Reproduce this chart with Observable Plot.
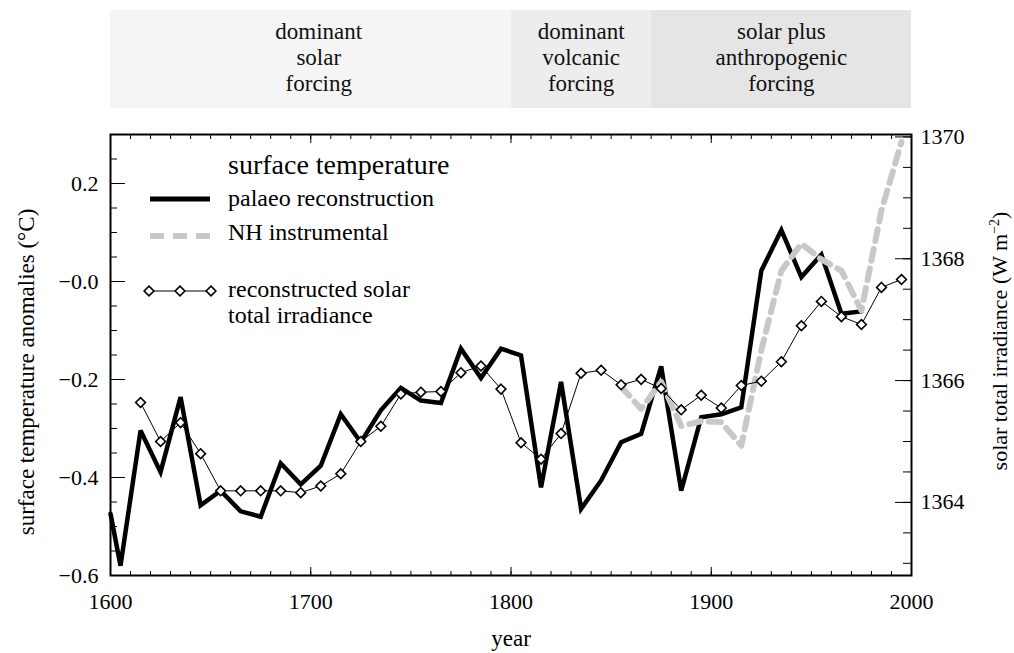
<!DOCTYPE html>
<html><head><meta charset="utf-8">
<script src="https://cdn.jsdelivr.net/npm/d3@7"></script>
<script src="https://cdn.jsdelivr.net/npm/@observablehq/plot@0.6"></script>
<style>
body{margin:0;background:#fff;}
#wrap{position:relative;width:1014px;height:653px;font-family:"Liberation Serif","Times New Roman",serif;}
#wrap > svg{display:block;}
#legend{position:absolute;left:0;top:0;pointer-events:none;}
</style></head><body><div id="wrap"></div>
<script>
// ---- data ----
const palaeoYears = [1600,1605,1615,1625,1635,1645,1655,1665,1675,1685,1695,1705,1715,1725,1735,1745,1755,1765,1775,1785,1795,1805,1815,1825,1835,1845,1855,1865,1875,1885,1895,1905,1915,1925,1935,1945,1955,1965,1975];
const palaeoTemp = [-0.474,-0.58,-0.304,-0.389,-0.236,-0.457,-0.427,-0.469,-0.48,-0.371,-0.414,-0.376,-0.271,-0.328,-0.263,-0.217,-0.243,-0.248,-0.137,-0.197,-0.137,-0.151,-0.42,-0.205,-0.464,-0.406,-0.328,-0.311,-0.173,-0.427,-0.277,-0.271,-0.257,0.022,0.105,0.009,0.055,-0.066,-0.061];
const nhYears = [1855,1865,1875,1885,1895,1905,1915,1925,1935,1945,1955,1965,1975,1985,1995];
const nhTemp = [-0.215,-0.26,-0.205,-0.295,-0.285,-0.287,-0.335,-0.14,0.022,0.077,0.045,0.022,-0.059,0.145,0.285];
const solarYears = [1615,1625,1635,1645,1655,1665,1675,1685,1695,1705,1715,1725,1735,1745,1755,1765,1775,1785,1795,1805,1815,1825,1835,1845,1855,1865,1875,1885,1895,1905,1915,1925,1935,1945,1955,1965,1975,1985,1995];
const solarIrr = [1365.64,1365.0,1365.31,1364.80,1364.19,1364.19,1364.19,1364.19,1364.16,1364.27,1364.47,1365.0,1365.25,1365.78,1365.81,1365.82,1366.13,1366.24,1365.86,1364.98,1364.71,1365.13,1366.12,1366.17,1365.93,1366.02,1365.87,1365.52,1365.76,1365.55,1365.92,1365.99,1366.31,1366.90,1367.30,1367.05,1366.92,1367.53,1367.66];

const bandStart = [1600,1800,1870];
const bandEnd = [1800,1870,2000];
const bandLabelYear = [1704,1835,1935];
const bandLabels = ["dominant\nsolar\nforcing","dominant\nvolcanic\nforcing","solar plus\nanthropogenic\nforcing"];
const bandFill = ["#f5f5f5","#ededed","#e5e5e5"];

const xMajor = [1600,1700,1800,1900,2000];
const xMinor = d3.range(1600,2001,10);
const yMajor = [-0.6,-0.4,-0.2,0,0.2];
const yMinor = d3.range(-0.6,0.3001,0.05);
const irrMajor = [1364,1366,1368,1370];
const irrMinor = d3.range(1363,1370.01,0.5);

const tempDomain = [-0.6,0.3];
const irrDomain = [1362.8,1370.04];

// ---- build ----
const irrToY = v => tempDomain[0] + (v - irrDomain[0])*(tempDomain[1]-tempDomain[0])/(irrDomain[1]-irrDomain[0]);
const yToIrr = t => irrDomain[0] + (t - tempDomain[0])*(irrDomain[1]-irrDomain[0])/(tempDomain[1]-tempDomain[0]);

const palaeo = palaeoYears.map((y,i)=>({year:y, temp:palaeoTemp[i]}));
const nh = nhYears.map((y,i)=>({year:y, temp:nhTemp[i]}));
const solar = solarYears.map((y,i)=>({year:y, irr:solarIrr[i], t:irrToY(solarIrr[i])}));
const bands = bandStart.map((s,i)=>({start:s, end:bandEnd[i], mid:bandLabelYear[i], label:bandLabels[i], fill:bandFill[i]}));

const FONT = "Liberation Serif, Times New Roman, serif";
const wrap = document.getElementById("wrap");

const band = Plot.plot({
  width:1014, height:120,
  marginLeft:110, marginRight:103, marginTop:10, marginBottom:12,
  x:{domain:[1600,2000], axis:null},
  y:{domain:[0,1], axis:null},
  style:{fontFamily:FONT, fontSize:"23px", color:"#000", background:"transparent"},
  marks:[
    Plot.rect(bands,{x1:"start", x2:"end", y1:0, y2:1, fill:"fill"}),
    Plot.text(bands,{x:"mid", frameAnchor:"middle", dy:-3, text:"label", lineHeight:1.15, fill:"#111", fontSize:23})
  ]
});
wrap.appendChild(band);

const fmtT = d => Math.abs(d) < 1e-9 ? "\u22120.0" : d3.format(".1f")(d);
const main = Plot.plot({
  width:1014, height:533,
  marginLeft:110, marginRight:103, marginTop:14, marginBottom:78,
  x:{domain:[1600,2000]},
  y:{domain:tempDomain},
  style:{fontFamily:FONT, fontSize:"22px", color:"#000", background:"transparent", overflow:"visible"},
  marks:[
    Plot.line(palaeo,{x:"year", y:"temp", stroke:"#000", strokeWidth:4.5, strokeLinejoin:"miter", strokeMiterlimit:3}),
    Plot.line(nh,{x:"year", y:"temp", stroke:"#c8c8c8", strokeWidth:6, strokeDasharray:"12,8"}),
    Plot.line(solar,{x:"year", y:"t", stroke:"#000", strokeWidth:1}),
    Plot.dot(solar,{x:"year", y:"t", symbol:"diamond2", r:4.4, fill:"white", stroke:"#000", strokeWidth:1.6}),
    // inward ticks
    Plot.axisX({anchor:"bottom", ticks:xMinor, tickSize:-4, tickFormat:()=>"", label:null}),
    Plot.axisX({anchor:"bottom", ticks:xMajor, tickSize:-8, tickFormat:()=>"", label:null}),
    Plot.axisX({anchor:"top", ticks:xMinor, tickSize:-4, tickFormat:()=>"", label:null}),
    Plot.axisX({anchor:"top", ticks:xMajor, tickSize:-8, tickFormat:()=>"", label:null}),
    Plot.axisX({anchor:"bottom", ticks:xMajor, tickSize:0, tickPadding:18, label:null, tickFormat:d=>String(d)}),
    Plot.axisY({anchor:"left", ticks:yMinor, tickSize:-7, tickFormat:()=>"", label:null}),
    Plot.axisY({anchor:"left", ticks:yMajor, tickSize:-15, tickFormat:()=>"", label:null}),
    Plot.axisY({anchor:"left", ticks:yMajor, tickSize:0, tickPadding:12, label:null, tickFormat:fmtT}),
    Plot.axisY({anchor:"right", ticks:irrMinor.map(irrToY), tickSize:-9, tickFormat:()=>"", label:null}),
    Plot.axisY({anchor:"right", ticks:irrMajor.map(irrToY), tickSize:-17, tickFormat:()=>"", label:null}),
    Plot.axisY({anchor:"right", ticks:irrMajor.map(irrToY), tickSize:0, tickPadding:9, label:null, tickFormat:d=>d3.format(".0f")(yToIrr(d))}),
    Plot.frame({stroke:"#000", strokeWidth:2}),
    Plot.text(["surface temperature anomalies (\u00b0C)"],{text:d=>d, frameAnchor:"left", textAnchor:"middle", dx:-84, dy:17, rotate:-90, fontSize:23}),
    Plot.text(["solar total irradiance (W m\u22122)"],{text:d=>d, frameAnchor:"right", textAnchor:"middle", dx:88, dy:-14, rotate:-90, fontSize:22}),
    Plot.text(["year"],{text:d=>d, frameAnchor:"bottom", dy:70, fontSize:23})
  ]
});
wrap.appendChild(main);

// superscript in right axis title
d3.select(main).selectAll("text").filter(function(){return this.textContent.startsWith("solar total");}).each(function(){
  const t = d3.select(this);
  t.text("solar total irradiance (W m");
  t.append("tspan").attr("font-size",14).attr("dy",-8).text("\u22122");
  t.append("tspan").attr("dy",8).text(")");
});

// legend overlay
const leg = d3.select(wrap).append("svg").attr("id","legend").attr("width",1014).attr("height",653)
  .style("font-family",FONT);
leg.append("text").attr("x",228).attr("y",174).attr("font-size",28).text("surface temperature");
leg.append("line").attr("x1",150).attr("x2",210).attr("y1",199).attr("y2",199).attr("stroke","#000").attr("stroke-width",5);
leg.append("text").attr("x",228).attr("y",206).attr("font-size",24).text("palaeo reconstruction");
leg.append("line").attr("x1",150).attr("x2",210).attr("y1",236).attr("y2",236).attr("stroke","#c8c8c8").attr("stroke-width",6).attr("stroke-dasharray","14,9");
leg.append("text").attr("x",228).attr("y",240).attr("font-size",24).text("NH instrumental");
leg.append("line").attr("x1",149).attr("x2",211).attr("y1",291).attr("y2",291).attr("stroke","#000").attr("stroke-width",1);
const sym = d3.symbol(d3.symbolDiamond2, Math.PI*4.4*4.4);
[149,180,211].forEach(x=>leg.append("path").attr("d",sym()).attr("transform",`translate(${x},291)`).attr("fill","white").attr("stroke","#000").attr("stroke-width",1.6));
leg.append("text").attr("x",228).attr("y",297).attr("font-size",24).text("reconstructed solar");
leg.append("text").attr("x",228).attr("y",323).attr("font-size",24).text("total irradiance");
</script></body></html>
